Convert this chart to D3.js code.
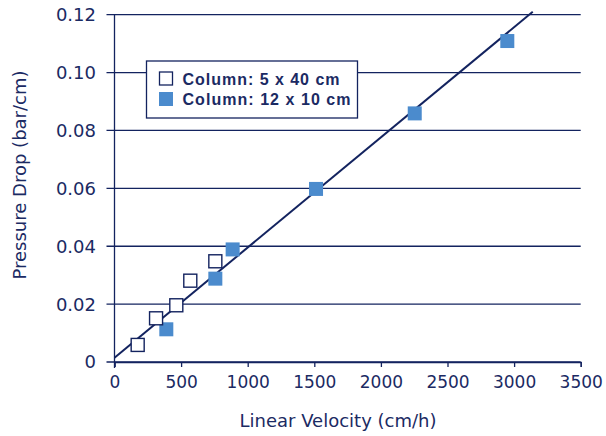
<!DOCTYPE html>
<html>
<head>
<meta charset="utf-8">
<script src="https://cdn.jsdelivr.net/npm/d3@7"></script>
<style>
  body { margin: 0; background: #fff; }
  text { font-family: 'DejaVu Sans', sans-serif; fill: #1b2a63; }
</style>
</head>
<body>
<div id="chart"></div>
<script>
// Column 5 x 40 cm (open squares)
const smallVelocity = [174, 312, 464, 569, 757]
const smallDrop = [0.0059, 0.0151, 0.0196, 0.0281, 0.0348]

// Column 12 x 10 cm (filled squares)
const largeVelocity = [389, 757, 887, 1513, 2254, 2949]
const largeDrop = [0.0113, 0.0288, 0.0389, 0.0598, 0.0859, 0.1109]

// Fitted line endpoints
const fitVelocity = [0, 3140]
const fitDrop = [0.0015, 0.121]

const xTicks = [0, 500, 1000, 1500, 2000, 2500, 3000, 3500]
const yTicks = [0, 0.02, 0.04, 0.06, 0.08, 0.10, 0.12]
const seriesNames = ['Column: 5 x 40 cm', 'Column: 12 x 10 cm']

const navy = '#13235f'
const blue = '#4b8bcd'

const width = 606
const height = 436
const margin = { top: 14.7, right: 25.3, bottom: 74, left: 114.5 }

const svg = d3.select('#chart').append('svg')
  .attr('width', width)
  .attr('height', height)

const x = d3.scaleLinear().domain([0, 3500]).range([margin.left, width - margin.right])
const y = d3.scaleLinear().domain([0, 0.12]).range([height - margin.bottom, margin.top])

// gridlines
svg.append('g')
  .selectAll('line')
  .data(yTicks)
  .enter().append('line')
  .attr('x1', margin.left - 8)
  .attr('x2', width - margin.right)
  .attr('y1', d => y(d))
  .attr('y2', d => y(d))
  .attr('stroke', navy)
  .attr('stroke-width', 1.3)

// y axis line
svg.append('line')
  .attr('x1', margin.left).attr('x2', margin.left)
  .attr('y1', y(0.12)).attr('y2', y(0) + 6)
  .attr('stroke', navy)
  .attr('stroke-width', 1.3)

// x axis
const xAxis = svg.append('g')
  .attr('transform', 'translate(0,' + y(0) + ')')
  .call(d3.axisBottom(x).tickValues(xTicks).tickSize(5).tickPadding(9).tickFormat(d3.format('d')))
xAxis.select('.domain').attr('stroke', navy).attr('stroke-width', 1.3)
xAxis.selectAll('.tick line').attr('stroke', navy).attr('stroke-width', 1.3)
xAxis.selectAll('text')
  .attr('fill', navy)
  .style('font-family', 'DejaVu Sans, sans-serif')
  .style('font-size', '17px')

// y tick labels
svg.append('g')
  .selectAll('text')
  .data(yTicks)
  .enter().append('text')
  .attr('x', 96)
  .attr('y', d => y(d))
  .attr('dy', '0.36em')
  .attr('text-anchor', 'end')
  .style('font-size', '18px')
  .text(d => d === 0 ? '0' : d3.format('.2f')(d))

// fitted line
svg.append('line')
  .attr('x1', x(fitVelocity[0])).attr('y1', y(fitDrop[0]))
  .attr('x2', x(fitVelocity[1])).attr('y2', y(fitDrop[1]))
  .attr('stroke', navy)
  .attr('stroke-width', 2)

const size = 14

// filled squares
svg.append('g')
  .selectAll('rect')
  .data(largeVelocity)
  .enter().append('rect')
  .attr('x', (d, i) => x(d) - size / 2)
  .attr('y', (d, i) => y(largeDrop[i]) - size / 2)
  .attr('width', size)
  .attr('height', size)
  .attr('fill', blue)

// open squares
svg.append('g')
  .selectAll('rect')
  .data(smallVelocity)
  .enter().append('rect')
  .attr('x', (d, i) => x(d) - (size - 1) / 2)
  .attr('y', (d, i) => y(smallDrop[i]) - (size - 1) / 2)
  .attr('width', size - 1)
  .attr('height', size - 1)
  .attr('fill', '#fff')
  .attr('stroke', navy)
  .attr('stroke-width', 1.4)

// legend
const legend = svg.append('g').attr('transform', 'translate(146.5,61)')
legend.append('rect')
  .attr('width', 211)
  .attr('height', 57)
  .attr('fill', '#fff')
  .attr('stroke', navy)
  .attr('stroke-width', 1.3)
legend.append('rect')
  .attr('x', 13).attr('y', 11)
  .attr('width', 13).attr('height', 13)
  .attr('fill', '#fff')
  .attr('stroke', navy)
  .attr('stroke-width', 1.3)
legend.append('rect')
  .attr('x', 12.5).attr('y', 31)
  .attr('width', 14).attr('height', 14)
  .attr('fill', blue)
legend.selectAll('text.series')
  .data(seriesNames)
  .enter().append('text')
  .attr('class', 'series')
  .attr('x', 36)
  .attr('y', (d, i) => 23.5 + i * 20.5)
  .style('font-family', 'Liberation Sans, Arial, sans-serif')
  .style('font-size', '16px')
  .style('font-weight', 'bold')
  .attr('textLength', (d, i) => i === 0 ? 157 : 168)
  .text(d => d)

// axis titles
svg.append('text')
  .attr('x', 338)
  .attr('y', 426.5)
  .attr('text-anchor', 'middle')
  .style('font-size', '18px')
  .text('Linear Velocity (cm/h)')

svg.append('text')
  .attr('transform', 'translate(26,175) rotate(-90)')
  .attr('text-anchor', 'middle')
  .style('font-size', '18px')
  .text('Pressure Drop (bar/cm)')
</script>
</body>
</html>
